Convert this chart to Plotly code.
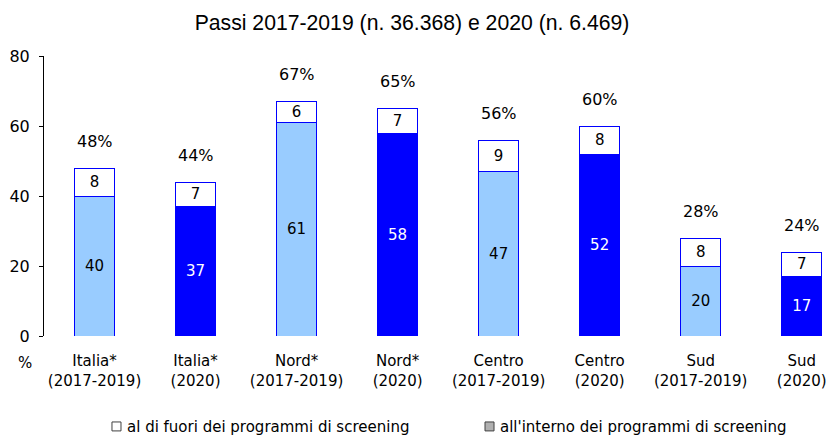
import plotly.graph_objects as go

categories = ["Italia*<br>(2017-2019)", "Italia*<br>(2020)", "Nord*<br>(2017-2019)", "Nord*<br>(2020)",
              "Centro<br>(2017-2019)", "Centro<br>(2020)", "Sud<br>(2017-2019)", "Sud<br>(2020)"]
inside_vals = [40, 37, 61, 58, 47, 52, 20, 17]
outside_vals = [8, 7, 6, 7, 9, 8, 8, 7]
total_labels = ["48%", "44%", "67%", "65%", "56%", "60%", "28%", "24%"]
y_ticks = [0, 20, 40, 60, 80]
legend_labels = ["al di fuori dei programmi di screening", "all'interno dei programmi di screening"]

LIGHT = "#99CCFF"
BLUE = "#0000FF"
FONT = "DejaVu Sans"

x = list(range(len(categories)))
inside_colors = [LIGHT if i % 2 == 0 else BLUE for i in x]
inside_text_colors = ["black" if i % 2 == 0 else "white" for i in x]

fig = go.Figure()
fig.add_trace(go.Bar(
    x=x, y=inside_vals, width=0.4,
    marker=dict(color=inside_colors, line=dict(color=BLUE, width=1)),
    text=[str(v) for v in inside_vals], textposition="inside", insidetextanchor="middle",
    textangle=0, constraintext="none",
    textfont=dict(family=FONT, size=15, color=inside_text_colors),
    showlegend=False, hoverinfo="skip",
))
fig.add_trace(go.Bar(
    x=x, y=outside_vals, width=0.4,
    marker=dict(color="white", line=dict(color=BLUE, width=1)),
    text=[str(v) for v in outside_vals], textposition="inside", insidetextanchor="middle",
    textangle=0, constraintext="none",
    textfont=dict(family=FONT, size=15, color="black"),
    showlegend=False, hoverinfo="skip",
))

for i in x:
    tot = inside_vals[i] + outside_vals[i]
    fig.add_annotation(x=i, y=tot, text=total_labels[i], showarrow=False, yshift=27,
                       font=dict(family=FONT, size=16, color="black"))

fig.add_annotation(xref="paper", yref="paper", x=-0.024, y=-0.096, text="%", showarrow=False,
                   xanchor="center", yanchor="middle", font=dict(family=FONT, size=15, color="black"))

# custom legend (text + swatches)
legend_text_x = [0.1033, 0.579]
legend_sq_x = [(0.0867, 0.0982), (0.5625, 0.574)]
legend_fill = ["white", "#B0B0B0"]
for lbl, tx, (sx0, sx1), fc in zip(legend_labels, legend_text_x, legend_sq_x, legend_fill):
    fig.add_annotation(xref="paper", yref="paper", x=tx, y=-0.325, text=lbl, showarrow=False,
                       xanchor="left", yanchor="middle", font=dict(family=FONT, size=15, color="black"))
    fig.add_shape(type="rect", xref="paper", yref="paper", x0=sx0, x1=sx1, y0=-0.339, y1=-0.307,
                  fillcolor=fc, line=dict(color="#404040", width=1))

fig.update_layout(
    width=828, height=435,
    margin=dict(l=44, r=0, t=56, b=99, autoexpand=False),
    barmode="stack",
    showlegend=False,
    plot_bgcolor="white", paper_bgcolor="white",
    title=dict(text="Passi 2017-2019 (n. 36.368) e 2020 (n. 6.469)", x=0.4976, xanchor="center",
               y=0.949, yanchor="middle", font=dict(family="Liberation Sans", size=21.2, color="black")),
    xaxis=dict(range=[-0.5, 7.26], tickmode="array", tickvals=x, ticktext=categories,
               showline=False, showgrid=False, zeroline=False, ticks="", automargin=False,
               ticklabelstandoff=14,
               tickfont=dict(family=FONT, size=15, color="black")),
    yaxis=dict(range=[0, 80], tickvals=y_ticks, showline=True, linecolor="black", linewidth=1,
               ticks="outside", ticklen=4, tickcolor="black", showgrid=False, zeroline=False,
               automargin=False,
               tickfont=dict(family=FONT, size=16, color="black"), ticklabelstandoff=6),
)

fig.write_html("out.html", config={"displayModeBar": False},
               post_script="document.body.style.margin='0';document.body.style.overflow='hidden';")
